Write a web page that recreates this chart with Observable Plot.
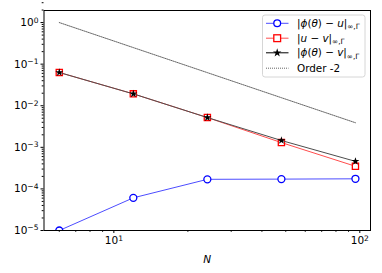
<!DOCTYPE html>
<html>
<head>
<meta charset="utf-8">
<script src="https://cdn.jsdelivr.net/npm/d3@7"></script>
<script src="https://cdn.jsdelivr.net/npm/@observablehq/plot@0.6"></script>
<style>
  html, body { margin: 0; padding: 0; background: #fff; }
  #chart { position: relative; width: 382px; height: 273px; }
</style>
</head>
<body>
<div id="chart"></div>
<script>
// ---- data ----
const N = [6, 12, 24, 48, 96];
const errPhiU = [1.0e-5, 6.1e-5, 1.7e-4, 1.72e-4, 1.75e-4];
const errUV = [0.063, 0.0193, 0.0052, 0.0013, 0.00035];
const errPhiV = [0.063, 0.0193, 0.0052, 0.00146, 0.00046];
const orderRef = [1.0, 0.25, 0.0625, 0.0156, 0.0039];

const xMajor = [10, 100];
const xMinor = [6, 7, 8, 9, 20, 30, 40, 50, 60, 70, 80, 90];
const yMajor = [1e-5, 1e-4, 1e-3, 1e-2, 1e-1, 1e0];
const yMinor = [];
for (let e = -5; e <= 0; e++) for (let k = 2; k <= 9; k++) yMinor.push(k * Math.pow(10, e));

const rows = (ys) => N.map((n, i) => ({ n, v: ys[i] }));

const blueLine = "#4d4dff", blue = "#0000ff";
const redLine = "#ff4d4d", red = "#ff0000";
const fmt = v => "10^" + Math.round(Math.log10(v));
const font = "DejaVu Sans";

const plot = Plot.plot({
  width: 382,
  height: 273,
  marginLeft: 43.5,
  marginRight: 12,
  marginTop: 10,
  marginBottom: 43,
  style: { fontFamily: font, background: "#fff" },
  x: { type: "log", domain: [Math.pow(10, 0.716), Math.pow(10, 2.0435)] },
  y: { type: "log", domain: [1e-5, Math.pow(10, 0.29)] },
  marks: [
    Plot.axisX(xMinor, { tickSize: 1.8, tickFormat: () => "", label: null, stroke: "#000" }),
    Plot.axisX(xMajor, { tickSize: 3, tickPadding: 3, tickFormat: fmt, label: null, fontSize: 10.5, fontFamily: font, stroke: "#000" }),
    Plot.axisY(yMinor, { tickSize: 1.8, tickFormat: () => "", label: null, stroke: "#000" }),
    Plot.axisY(yMajor, { tickSize: 3, tickPadding: 2.5, tickFormat: fmt, label: null, fontSize: 10.5, fontFamily: font, stroke: "#000" }),
    // order -2 reference
    Plot.line(rows(orderRef), { x: "n", y: "v", stroke: "#222", strokeWidth: 0.7, strokeDasharray: "1,1" }),
    // |phi - u|
    Plot.line(rows(errPhiU), { x: "n", y: "v", stroke: blueLine, strokeWidth: 1 }),
    Plot.dot(rows(errPhiU), { x: "n", y: "v", r: 3.5, stroke: blue, fill: "#fff", strokeWidth: 1.3, clip: true }),
    // |u - v|
    Plot.line(rows(errUV), { x: "n", y: "v", stroke: redLine, strokeWidth: 1 }),
    Plot.dot(rows(errUV), { x: "n", y: "v", symbol: "square", r: 3.5, stroke: red, fill: "#fff", strokeWidth: 1.3 }),
    // |phi - v|
    Plot.line(rows(errPhiV), { x: "n", y: "v", stroke: "#4d4d4d", strokeWidth: 1 }),
    Plot.dot(rows(errPhiV), { x: "n", y: "v", symbol: "star", r: 2.5, fill: "#000", stroke: "none" }),
    Plot.frame({ stroke: "#000", strokeWidth: 1 }),
    Plot.text(["N"], { frameAnchor: "bottom", dy: 32, fontSize: 10.5, fontStyle: "italic", fontFamily: font, fill: "#000" })
  ]
});

// superscript exponents in tick labels
d3.select(plot).selectAll("text").each(function () {
  const t = this.textContent;
  if (t.includes("^")) {
    const [base, exp] = t.split("^");
    const sel = d3.select(this);
    sel.text(null);
    sel.append("tspan").text(base);
    sel.append("tspan").attr("dy", "-0.45em").attr("font-size", "0.72em").text(exp.replace("-", "\u2212"));
  }
});

// legend
const svg = d3.select(plot);
const lg = svg.append("g").attr("font-family", font).attr("font-size", 10.4).attr("text-anchor", "start");
lg.append("rect").attr("x", 262.5).attr("y", 15).attr("width", 102.5).attr("height", 62)
  .attr("rx", 2.5).attr("fill", "#fff").attr("fill-opacity", 0.85).attr("stroke", "#ccc").attr("stroke-width", 0.8);
const rowsY = [23.3, 38.2, 52.8, 68.2];
const x0 = 266, x1 = 288.5, xm = 277.2, xt = 297;
// row 1
lg.append("line").attr("x1", x0).attr("x2", x1).attr("y1", rowsY[0]).attr("y2", rowsY[0]).attr("stroke", blueLine);
lg.append("circle").attr("cx", xm).attr("cy", rowsY[0]).attr("r", 3.4).attr("fill", "#fff").attr("stroke", blue).attr("stroke-width", 1.3);
// row 2
lg.append("line").attr("x1", x0).attr("x2", x1).attr("y1", rowsY[1]).attr("y2", rowsY[1]).attr("stroke", redLine);
lg.append("rect").attr("x", xm - 3.4).attr("y", rowsY[1] - 3.4).attr("width", 6.8).attr("height", 6.8).attr("fill", "#fff").attr("stroke", red).attr("stroke-width", 1.3);
// row 3
lg.append("line").attr("x1", x0).attr("x2", x1).attr("y1", rowsY[2]).attr("y2", rowsY[2]).attr("stroke", "#000");
lg.append("path").attr("transform", `translate(${xm},${rowsY[2]})`).attr("d", d3.symbol(d3.symbolStar, 22)()).attr("fill", "#000");
// row 4
lg.append("line").attr("x1", x0).attr("x2", x1).attr("y1", rowsY[3]).attr("y2", rowsY[3]).attr("stroke", "#222").attr("stroke-width", 0.7).attr("stroke-dasharray", "1,1");

function mathLabel(y, parts) {
  const t = lg.append("text").attr("x", xt).attr("y", y).attr("dy", "0.35em").attr("fill", "#000");
  parts.forEach(([s, style]) => {
    const sp = t.append("tspan").text(s);
    if (style === "i") sp.attr("font-style", "italic");
    if (style === "sub") sp.attr("font-size", "0.7em").attr("dy", "0.3em");
  });
}
mathLabel(rowsY[0], [["|", ""], ["\u03d5", "i"], ["(", ""], ["\u03b8", "i"], [") \u2212 ", ""], ["u", "i"], ["|", ""], ["\u221e,\u0393", "sub"]]);
mathLabel(rowsY[1], [["|", ""], ["u", "i"], [" \u2212 ", ""], ["v", "i"], ["|", ""], ["\u221e,\u0393", "sub"]]);
mathLabel(rowsY[2], [["|", ""], ["\u03d5", "i"], ["(", ""], ["\u03b8", "i"], [") \u2212 ", ""], ["v", "i"], ["|", ""], ["\u221e,\u0393", "sub"]]);
lg.append("text").attr("x", xt).attr("y", rowsY[3]).attr("dy", "0.35em").attr("fill", "#000").text("Order -2");

document.getElementById("chart").appendChild(plot);
</script>
</body>
</html>
